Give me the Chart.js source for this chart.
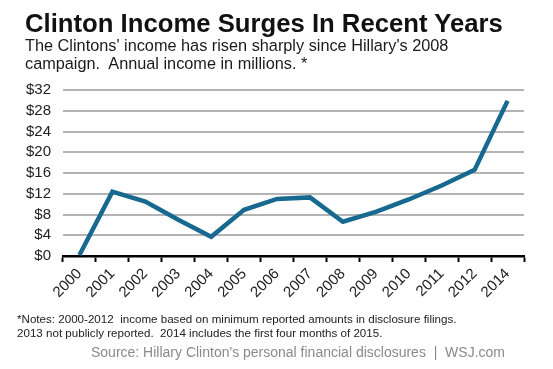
<!DOCTYPE html>
<html>
<head>
<meta charset="utf-8">
<script src="https://cdn.jsdelivr.net/npm/chart.js@4/dist/chart.umd.min.js"></script>
<style>
  html, body { margin: 0; padding: 0; background: #fff; }
  #wrap { position: relative; width: 553px; height: 369px; overflow: hidden; font-family: Arial, "Liberation Sans", sans-serif; }
  #wrap div.txt { position: absolute; white-space: nowrap; }
  #title { left: 25px; top: 8px; font-size: 25.7px; line-height: 30px; font-weight: bold; color: #111; }
  #sub { left: 25px; top: 37px; font-size: 16.3px; line-height: 17.5px; color: #1a1a1a; }
  #notes { left: 17px; top: 312px; font-size: 11.6px; line-height: 14px; color: #222; }
  #source { right: 48px; top: 343px; font-size: 14px; line-height: 18px; color: #8a8a8a; }
  canvas { position: absolute; left: 0; top: 0; }
</style>
</head>
<body>
<div id="wrap">
  <canvas id="myChart" width="553" height="369"></canvas>
  <div class="txt" id="title">Clinton Income Surges In Recent Years</div>
  <div class="txt" id="sub">The Clintons' income has risen sharply since Hillary's 2008<br>campaign.&nbsp; Annual income in millions. *</div>
  <div class="txt" id="notes">*Notes: 2000-2012&nbsp; income based on minimum reported amounts in disclosure filings.<br>2013 not publicly reported.&nbsp; 2014 includes the first four months of 2015.</div>
  <div class="txt" id="source">Source: Hillary Clinton's personal financial disclosures&nbsp; |&nbsp; WSJ.com</div>
</div>
<script>
// years on the x axis (2013 was not reported)
var years = ["2000", "2001", "2002", "2003", "2004", "2005", "2006", "2007", "2008", "2009", "2010", "2011", "2012", "2014"];
// annual income, millions of dollars
var income = [0.2, 12.4, 10.5, 7.0, 3.7, 8.9, 11.0, 11.3, 6.6, 8.5, 10.9, 13.6, 16.6, 29.9];
// y ticks
var yMin = 0, yMax = 32, yStep = 4;

var ctx = document.getElementById("myChart").getContext("2d");

var incomeChart = new Chart(ctx, {
  type: "line",
  data: {
    labels: years,
    datasets: [{
      data: income,
      borderColor: "#17698f",
      borderWidth: 4.5,
      tension: 0,
      pointRadius: 0,
      borderJoinStyle: "miter",
      clip: false
    }]
  },
  options: {
    responsive: false,
    animation: false,
    layout: { padding: { left: 0, right: 29, top: 90, bottom: 60 } },
    plugins: { legend: { display: false }, tooltip: { enabled: false } },
    scales: {
      x: {
        offset: true,
        afterFit: function (s) { s.height = 53; },
        grid: { offset: true, drawOnChartArea: false, drawTicks: true, tickLength: 6, tickColor: "#000", tickWidth: 2 },
        border: { display: true, color: "#000", width: 2.5 },
        ticks: {
          minRotation: 45, maxRotation: 45, autoSkip: false, padding: 3,
          color: "#222", font: { family: "Arial, 'Liberation Sans'", size: 15 }
        }
      },
      y: {
        min: yMin, max: yMax,
        afterFit: function (s) { s.width = 63; },
        grid: { color: "#b4b4b4", lineWidth: 2, drawTicks: false },
        border: { display: false },
        ticks: {
          stepSize: yStep, padding: 12, autoSkip: false,
          color: "#222", font: { family: "Arial, 'Liberation Sans'", size: 15 },
          callback: function (v) { return "$" + v; }
        }
      }
    }
  }
});
</script>
</body>
</html>
